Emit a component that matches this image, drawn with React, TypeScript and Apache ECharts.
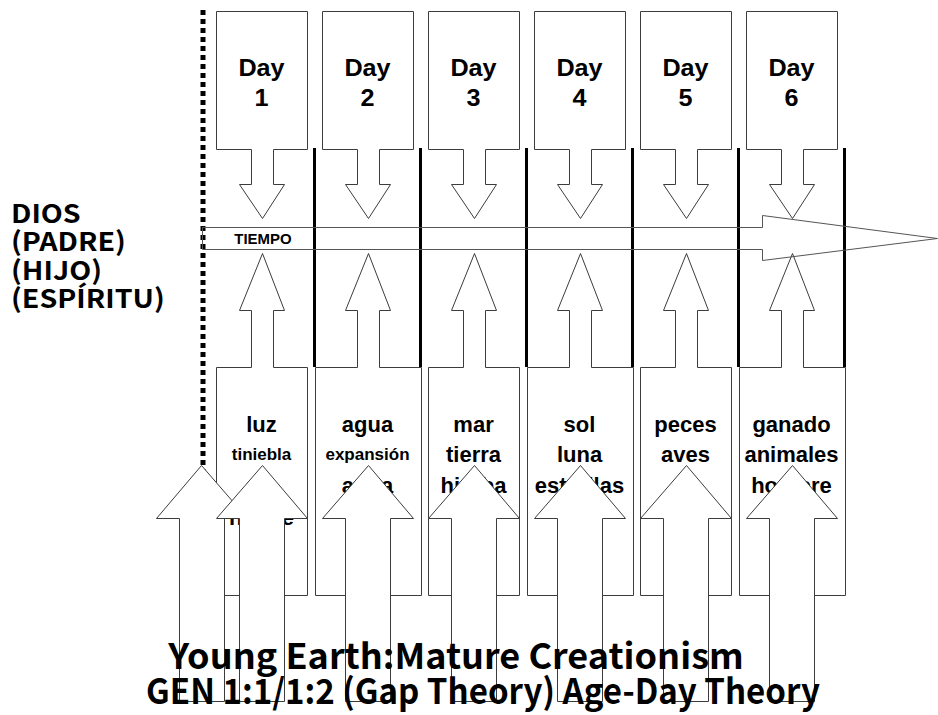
import React, { useEffect, useRef } from "react";
import * as echarts from "echarts";

// ---- data ----
const dayNumbers = [1, 2, 3, 4, 5, 6];
const dayWords = [
  ["luz", "tiniebla", "día", "noche"],
  ["agua", "expansión", "agua"],
  ["mar", "tierra", "hierba"],
  ["sol", "luna", "estrellas"],
  ["peces", "aves"],
  ["ganado", "animales", "hombre"],
];
const godLabels = ["DIOS", "(PADRE)", "(HIJO)", "(ESPÍRITU)"];
const timeLabel = "TIEMPO";
const titleLines = [
  "Young Earth:Mature Creationism",
  "GEN 1:1/1:2 (Gap Theory) Age-Day Theory",
];

// ---- layout ----
const COL0 = 216;
const PITCH = 106;
const COLW = 91;
const STEM = 11;
const HEAD = 22.5;
const STROKE = "#3c3c3c";
const KR = "'Noto Sans CJK KR', 'Noto Sans', sans-serif";
const LAT = "'Liberation Sans', Arial, sans-serif";
const SMALL = new Set(["tiniebla", "expansión"]);

const P = (x: number, y: number) => [Math.round(x) + 0.5, Math.round(y) + 0.5];

const txt = (
  text: string, x: number, y: number, font: string, z: number,
  align = "center", scaleX = 1, lineHeight?: number
) => ({
  type: "text", z, x, y, scaleX,
  style: {
    text, x: 0, y: 0, fill: "#000", font,
    ...(lineHeight ? { lineHeight } : {}),
    align, verticalAlign: "middle", textAlign: align, textVerticalAlign: "middle",
  },
});

function buildGraphic() {
  const els: any[] = [];
  let z = 1;
  const cx = (i: number) => COL0 + PITCH * i + COLW / 2;
  const dotX = 203;

  // dotted divider
  els.push({
    type: "line", z: z++,
    shape: { x1: dotX, y1: 10, x2: dotX, y2: 700 },
    style: { stroke: "#000", lineWidth: 5, lineDash: [5, 4] },
  });

  // top callouts (Day boxes with down arrows)
  dayNumbers.forEach((d, i) => {
    const L = COL0 + PITCH * i, R = L + COLW, c = cx(i);
    els.push({
      type: "polygon", z: z,
      shape: {
        points: [
          P(L, 11), P(R, 11), P(R, 149), P(c + STEM, 149), P(c + STEM, 184),
          P(c + HEAD, 184), P(c, 218), P(c - HEAD, 184), P(c - STEM, 184),
          P(c - STEM, 149), P(L, 149),
        ],
      },
      style: { fill: "#fff", stroke: STROKE, lineWidth: 1 },
    });
    els.push(txt("Day", c, 68, `bold 24px ${LAT}`, z + 1, "center", 1.05, 26));
    els.push(txt(String(d), c, 98, `bold 24px ${LAT}`, z + 1, "center", 1.05, 26));
  });
  z += 2;

  // bottom callouts (boxes with up arrows), alternate widths
  dayWords.forEach((words, i) => {
    const wide = i % 2 === 1;
    const L0 = COL0 + PITCH * i;
    const L = wide ? L0 - 7.5 : L0;
    const R = wide ? L0 + COLW + 7.5 : L0 + COLW;
    const c = cx(i);
    els.push({
      type: "polygon", z: z,
      shape: {
        points: [
          P(L, 367), P(c - STEM, 367), P(c - STEM, 310), P(c - HEAD, 310),
          P(c, 253), P(c + HEAD, 310), P(c + STEM, 310), P(c + STEM, 367),
          P(R, 367), P(R, 595), P(L, 595),
        ],
      },
      style: { fill: "#fff", stroke: STROKE, lineWidth: 1 },
    });
    const ys = [424, 454, 485, 517];
    words.forEach((w, k) => {
      els.push(txt(w, c, ys[k], `bold ${SMALL.has(w) ? 17 : 22}px ${LAT}`, z + 1, "center", 1, 24));
    });
  });
  z += 2;

  // thick separators
  dayNumbers.forEach((_, i) => {
    const x = COL0 + PITCH * i + COLW + 7.5;
    els.push({
      type: "line", z: z,
      shape: { x1: x, y1: 148, x2: x, y2: 367 },
      style: { stroke: "#000", lineWidth: 3 },
    });
  });
  z++;

  // time arrow
  els.push({
    type: "polygon", z: z++,
    shape: {
      points: [P(202, 227), P(762, 227), P(762, 215), P(937, 238), P(762, 260), P(762, 249), P(202, 249)],
    },
    style: { fill: "none", stroke: "#555", lineWidth: 1 },
  });
  els.push(txt(timeLabel, 263, 239, `bold 14px ${LAT}`, z++, "center", 1.07, 16));

  // big bottom up arrows
  const bigCenters = [dotX - 2, ...dayNumbers.map((_, i) => cx(i))];
  bigCenters.forEach((c) => {
    els.push({
      type: "polygon", z: z++,
      shape: {
        points: [
          P(c, 465), P(c + 45.5, 518), P(c + 22.5, 518), P(c + 22.5, 701),
          P(c - 22.5, 701), P(c - 22.5, 518), P(c - 45.5, 518),
        ],
      },
      style: { fill: "#fff", stroke: STROKE, lineWidth: 1 },
    });
  });

  // left labels (one block)
  els.push(txt(godLabels.join("\n"), 11, 254, `bold 26px ${KR}`, z++, "left", 1.1, 28.5));

  // titles
  const tPos = [[456, 654], [483, 689]];
  const tScale = [1.03, 0.945];
  titleLines.forEach((t, k) => {
    els.push(txt(t, tPos[k][0], tPos[k][1], `bold 35px ${KR}`, z, "center", tScale[k], 35));
  });
  return els;
}

export default function App() {
  const ref = useRef<HTMLDivElement>(null);
  useEffect(() => {
    if (!ref.current) return;
    const chart = echarts.init(ref.current, undefined, { renderer: "svg" });
    chart.setOption({
      animation: false,
      backgroundColor: "#fff",
      graphic: { elements: buildGraphic() },
    });
    return () => chart.dispose();
  }, []);
  return (
    <div
      ref={ref}
      style={{ position: "absolute", left: 0, top: 0, width: 938, height: 715 }}
    />
  );
}
